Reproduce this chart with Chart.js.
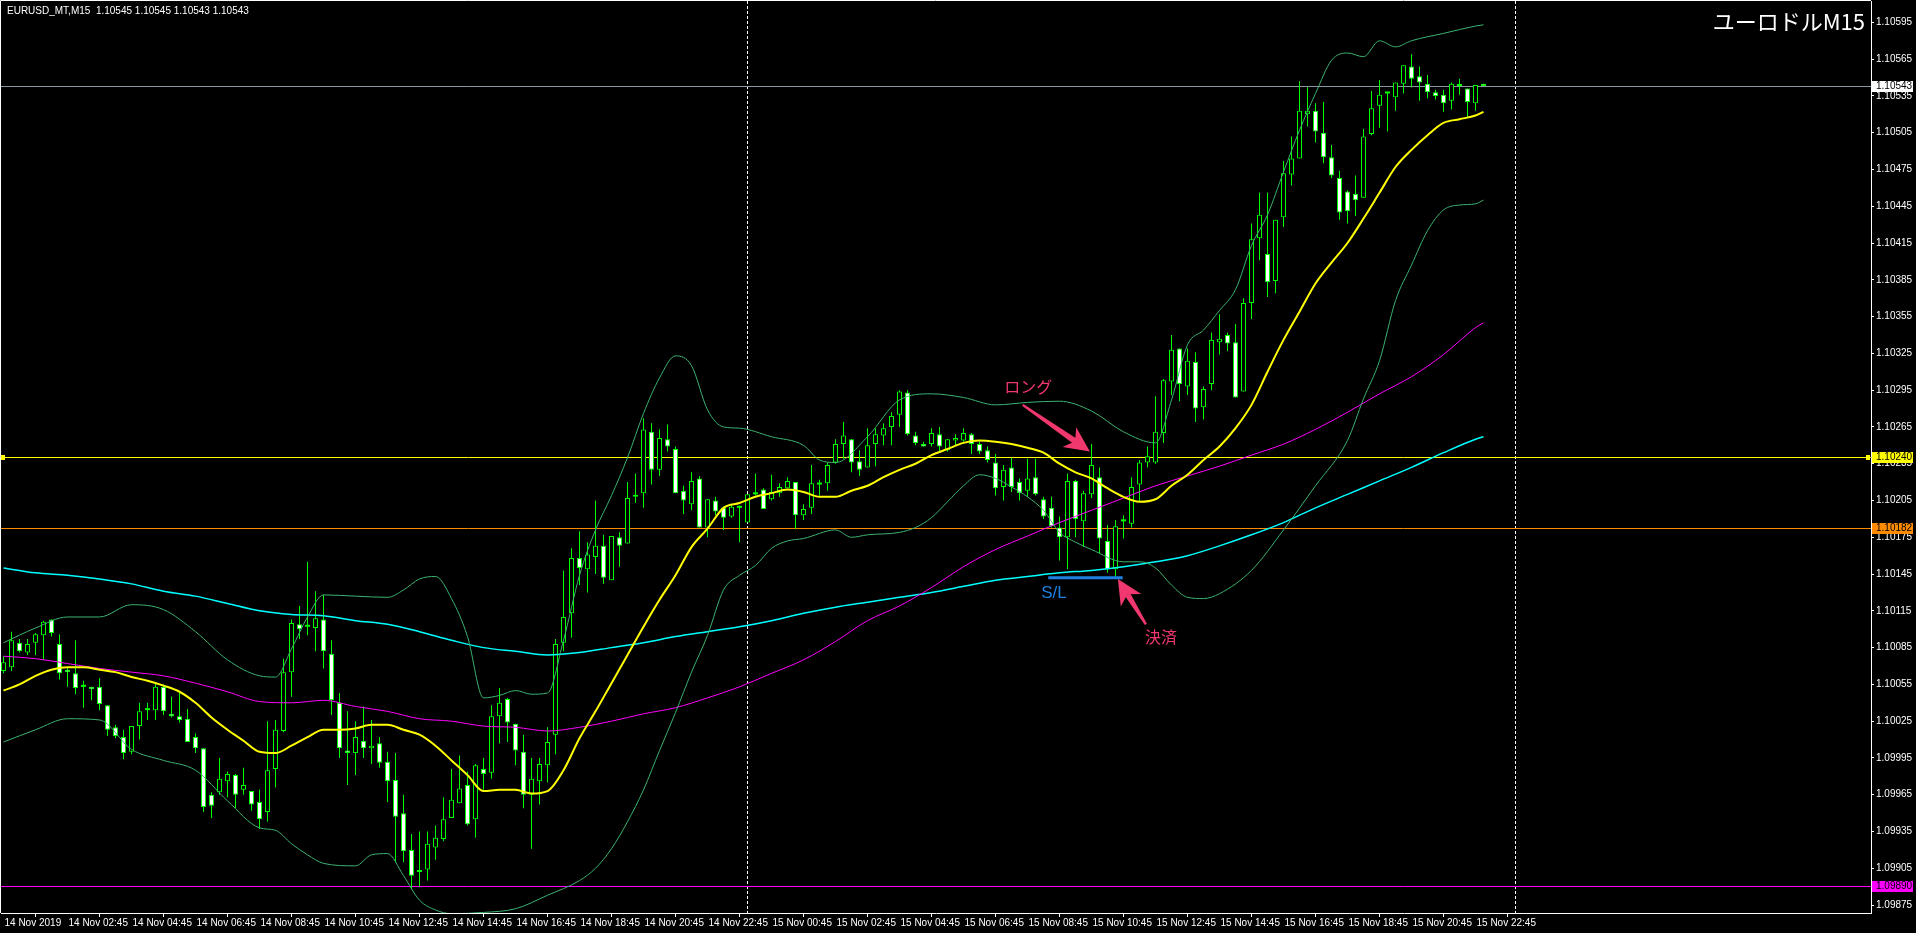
<!DOCTYPE html>
<html lang="ja">
<head>
<meta charset="UTF-8">
<title>EURUSD M15</title>
<script src="https://cdn.jsdelivr.net/npm/chart.js@4.4.1/dist/chart.umd.min.js"></script>
<style>
    html, body { margin: 0; padding: 0; background: #000; overflow: hidden; }
    #chart { display: block; }
</style>
</head>
<body>
<canvas id="chart" width="1916" height="933"></canvas>
<script>
// ローソク足 (14 Nov 00:45 から 15分足, 186本)
const openP = [
    1.10066, 1.10069, 1.10089, 1.10081, 1.10089, 1.10095, 1.10108, 1.10088, 1.10067, 1.10064,
    1.10053, 1.10053, 1.10053, 1.10038, 1.10020, 1.10012, 1.10000, 1.10021, 1.10034, 1.10034,
    1.10053, 1.10031, 1.10029, 1.10027, 1.10012, 1.10003, 1.09965, 1.09967, 1.09976, 1.09981,
    1.09969, 1.09968, 1.09959, 1.09951, 1.09986, 1.10017, 1.10065, 1.10104, 1.10102, 1.10101,
    1.10108, 1.10080, 1.10040, 1.10001, 1.09999, 1.10009, 1.10003, 1.10007, 1.09992, 1.09977,
    1.09950, 1.09920, 1.09902, 1.09904, 1.09922, 1.09929, 1.09946, 1.09958, 1.09973, 1.09945,
    1.09986, 1.09983, 1.10029, 1.10043, 1.10023, 1.10000, 1.09965, 1.09976, 1.09989, 1.10014,
    1.10089, 1.10113, 1.10158, 1.10149, 1.10159, 1.10168, 1.10140, 1.10175, 1.10170, 1.10208,
    1.10211, 1.10261, 1.10230, 1.10255, 1.10247, 1.10213, 1.10202, 1.10223, 1.10183, 1.10205,
    1.10199, 1.10192, 1.10199, 1.10187, 1.10210, 1.10214, 1.10206, 1.10211, 1.10215, 1.10220,
    1.10193, 1.10199, 1.10218, 1.10219, 1.10236, 1.10251, 1.10255, 1.10237, 1.10232, 1.10251,
    1.10258, 1.10265, 1.10275, 1.10293, 1.10258, 1.10251, 1.10251, 1.10259, 1.10246, 1.10254,
    1.10254, 1.10259, 1.10251, 1.10246, 1.10236, 1.10216, 1.10232, 1.10220, 1.10213, 1.10224,
    1.10206, 1.10199, 1.10183, 1.10175, 1.10221, 1.10188, 1.10210, 1.10224, 1.10172, 1.10149,
    1.10188, 1.10186, 1.10218, 1.10236, 1.10236, 1.10260, 1.10302, 1.10329, 1.10298, 1.10318,
    1.10281, 1.10300, 1.10334, 1.10340, 1.10334, 1.10294, 1.10366, 1.10419, 1.10406, 1.10384,
    1.10436, 1.10471, 1.10484, 1.10520, 1.10523, 1.10505, 1.10485, 1.10468, 1.10457, 1.10455,
    1.10452, 1.10504, 1.10527, 1.10537, 1.10534, 1.10545, 1.10559, 1.10551, 1.10545, 1.10538,
    1.10536, 1.10531, 1.10544, 1.10541, 1.10529, 1.10545
];
const highP = [
    1.10078, 1.10098, 1.10092, 1.10092, 1.10097, 1.10107, 1.10108, 1.10096, 1.10069, 1.10091,
    1.10058, 1.10053, 1.10060, 1.10038, 1.10022, 1.10018, 1.10021, 1.10040, 1.10040, 1.10056,
    1.10055, 1.10045, 1.10048, 1.10035, 1.10015, 1.10003, 1.09967, 1.09995, 1.09984, 1.09982,
    1.09987, 1.09968, 1.09969, 1.10025, 1.10026, 1.10076, 1.10108, 1.10119, 1.10155, 1.10131,
    1.10128, 1.10091, 1.10048, 1.10033, 1.10025, 1.10037, 1.10026, 1.10012, 1.10000, 1.09999,
    1.09965, 1.09933, 1.09935, 1.09935, 1.09940, 1.09963, 1.09986, 1.09997, 1.09984, 1.09990,
    1.09995, 1.10038, 1.10052, 1.10044, 1.10023, 1.10014, 1.09995, 1.09995, 1.10020, 1.10092,
    1.10148, 1.10166, 1.10180, 1.10171, 1.10205, 1.10177, 1.10176, 1.10179, 1.10220, 1.10227,
    1.10272, 1.10268, 1.10263, 1.10267, 1.10249, 1.10217, 1.10228, 1.10225, 1.10206, 1.10208,
    1.10200, 1.10202, 1.10201, 1.10210, 1.10227, 1.10215, 1.10226, 1.10219, 1.10224, 1.10220,
    1.10202, 1.10234, 1.10222, 1.10236, 1.10255, 1.10269, 1.10255, 1.10246, 1.10264, 1.10264,
    1.10268, 1.10277, 1.10295, 1.10295, 1.10261, 1.10253, 1.10264, 1.10265, 1.10255, 1.10259,
    1.10264, 1.10260, 1.10253, 1.10249, 1.10243, 1.10234, 1.10240, 1.10223, 1.10239, 1.10239,
    1.10208, 1.10208, 1.10192, 1.10227, 1.10222, 1.10213, 1.10251, 1.10232, 1.10185, 1.10189,
    1.10193, 1.10224, 1.10238, 1.10249, 1.10290, 1.10304, 1.10340, 1.10329, 1.10329, 1.10326,
    1.10298, 1.10342, 1.10357, 1.10342, 1.10349, 1.10370, 1.10431, 1.10456, 1.10456, 1.10434,
    1.10482, 1.10502, 1.10547, 1.10542, 1.10529, 1.10530, 1.10495, 1.10474, 1.10458, 1.10470,
    1.10508, 1.10539, 1.10548, 1.10538, 1.10546, 1.10560, 1.10569, 1.10559, 1.10552, 1.10540,
    1.10540, 1.10546, 1.10549, 1.10541, 1.10544, 1.10545
];
const lowP = [
    1.10064, 1.10066, 1.10081, 1.10079, 1.10079, 1.10075, 1.10094, 1.10059, 1.10053, 1.10047,
    1.10036, 1.10042, 1.10034, 1.10013, 1.10011, 1.09994, 1.09998, 1.10010, 1.10026, 1.10026,
    1.10030, 1.10028, 1.10024, 1.10008, 1.09999, 1.09951, 1.09946, 1.09965, 1.09963, 1.09954,
    1.09965, 1.09952, 1.09937, 1.09943, 1.09971, 1.10016, 1.10045, 1.10092, 1.10095, 1.10082,
    1.10068, 1.10030, 1.09995, 1.09973, 1.09981, 1.09995, 1.09990, 1.09987, 1.09959, 1.09910,
    1.09910, 1.09888, 1.09890, 1.09895, 1.09912, 1.09927, 1.09946, 1.09958, 1.09940, 1.09930,
    1.09969, 1.09978, 1.10007, 1.10008, 1.09989, 1.09954, 1.09921, 1.09957, 1.09975, 1.09998,
    1.10082, 1.10093, 1.10136, 1.10130, 1.10145, 1.10137, 1.10140, 1.10151, 1.10170, 1.10203,
    1.10199, 1.10218, 1.10225, 1.10245, 1.10211, 1.10194, 1.10197, 1.10183, 1.10175, 1.10193,
    1.10181, 1.10191, 1.10171, 1.10187, 1.10209, 1.10198, 1.10205, 1.10208, 1.10215, 1.10182,
    1.10189, 1.10194, 1.10209, 1.10213, 1.10235, 1.10239, 1.10228, 1.10225, 1.10232, 1.10233,
    1.10250, 1.10250, 1.10265, 1.10258, 1.10250, 1.10249, 1.10249, 1.10245, 1.10245, 1.10250,
    1.10253, 1.10243, 1.10243, 1.10236, 1.10209, 1.10205, 1.10212, 1.10205, 1.10208, 1.10209,
    1.10190, 1.10183, 1.10156, 1.10149, 1.10175, 1.10167, 1.10207, 1.10162, 1.10146, 1.10143,
    1.10174, 1.10183, 1.10204, 1.10232, 1.10235, 1.10252, 1.10291, 1.10286, 1.10291, 1.10269,
    1.10271, 1.10295, 1.10324, 1.10327, 1.10289, 1.10294, 1.10353, 1.10401, 1.10371, 1.10374,
    1.10428, 1.10462, 1.10484, 1.10510, 1.10497, 1.10480, 1.10468, 1.10434, 1.10431, 1.10437,
    1.10452, 1.10503, 1.10509, 1.10506, 1.10523, 1.10537, 1.10542, 1.10531, 1.10533, 1.10532,
    1.10522, 1.10524, 1.10536, 1.10517, 1.10523, 1.10543
];
const closeP = [
    1.10073, 1.10091, 1.10082, 1.10088, 1.10096, 1.10106, 1.10097, 1.10064, 1.10065, 1.10052,
    1.10053, 1.10051, 1.10039, 1.10018, 1.10013, 1.09999, 1.10021, 1.10033, 1.10034, 1.10053,
    1.10033, 1.10029, 1.10026, 1.10008, 1.10003, 1.09955, 1.09956, 1.09978, 1.09982, 1.09965,
    1.09973, 1.09957, 1.09945, 1.09985, 1.10018, 1.10065, 1.10105, 1.10100, 1.10102, 1.10109,
    1.10082, 1.10042, 1.10003, 1.09999, 1.10012, 1.10003, 1.10005, 1.09991, 1.09976, 1.09947,
    1.09919, 1.09899, 1.09902, 1.09925, 1.09930, 1.09945, 1.09961, 1.09970, 1.09941, 1.09989,
    1.09982, 1.10029, 1.10040, 1.10024, 1.10001, 1.09965, 1.09978, 1.09990, 1.10008, 1.10088,
    1.10110, 1.10158, 1.10150, 1.10161, 1.10168, 1.10142, 1.10176, 1.10168, 1.10207, 1.10209,
    1.10263, 1.10230, 1.10256, 1.10249, 1.10211, 1.10205, 1.10221, 1.10183, 1.10206, 1.10196,
    1.10191, 1.10200, 1.10199, 1.10210, 1.10210, 1.10198, 1.10212, 1.10216, 1.10221, 1.10193,
    1.10198, 1.10219, 1.10218, 1.10234, 1.10251, 1.10258, 1.10236, 1.10230, 1.10250, 1.10259,
    1.10264, 1.10274, 1.10294, 1.10259, 1.10252, 1.10249, 1.10260, 1.10249, 1.10255, 1.10256,
    1.10260, 1.10251, 1.10245, 1.10238, 1.10215, 1.10230, 1.10216, 1.10211, 1.10223, 1.10210,
    1.10192, 1.10184, 1.10175, 1.10221, 1.10190, 1.10211, 1.10234, 1.10174, 1.10149, 1.10184,
    1.10188, 1.10216, 1.10236, 1.10241, 1.10261, 1.10303, 1.10328, 1.10300, 1.10319, 1.10280,
    1.10296, 1.10336, 1.10337, 1.10333, 1.10289, 1.10366, 1.10418, 1.10438, 1.10383, 1.10434,
    1.10472, 1.10484, 1.10523, 1.10523, 1.10506, 1.10485, 1.10470, 1.10440, 1.10441, 1.10450,
    1.10502, 1.10525, 1.10536, 1.10537, 1.10546, 1.10560, 1.10549, 1.10546, 1.10538, 1.10535,
    1.10529, 1.10545, 1.10543, 1.10530, 1.10544, 1.10543
];

// 移動平均線（画像から読み取り、バー番号ごと）
const yellowIdx = [
    0, 2, 4, 6, 8, 10, 12, 14, 16, 18, 20, 22, 24, 26, 28, 30, 32, 34, 36, 38,
    40, 42, 44, 46, 48, 50, 52, 54, 56, 58, 60, 62, 64, 66, 68, 70, 72, 74, 76, 78,
    80, 82, 84, 86, 88, 90, 92, 94, 96, 98, 100, 102, 104, 106, 108, 110, 112, 114, 116, 118,
    120, 122, 124, 126, 128, 130, 132, 134, 136, 138, 140, 142, 144, 146, 148, 150, 152, 154, 156, 158,
    160, 162, 164, 166, 168, 170, 172, 174, 176, 178, 180, 182, 184, 185
];
const yellowVal = [
    1.10050, 1.10055, 1.10062, 1.10067, 1.10069, 1.10069, 1.10067, 1.10065, 1.10061, 1.10058,
    1.10054, 1.10049, 1.10040, 1.10028, 1.10018, 1.10009, 1.10000, 1.09999, 1.10005, 1.10012,
    1.10018, 1.10018, 1.10019, 1.10022, 1.10022, 1.10018, 1.10014, 1.10005, 1.09993, 1.09981,
    1.09968, 1.09969, 1.09969, 1.09966, 1.09968, 1.09985, 1.10011, 1.10033, 1.10056, 1.10079,
    1.10102, 1.10124, 1.10144, 1.10167, 1.10182, 1.10199, 1.10203, 1.10208, 1.10211, 1.10214,
    1.10212, 1.10208, 1.10208, 1.10213, 1.10217, 1.10224, 1.10230, 1.10235, 1.10242, 1.10247,
    1.10252, 1.10254, 1.10253, 1.10251, 1.10248, 1.10244, 1.10235, 1.10228, 1.10223, 1.10215,
    1.10208, 1.10204, 1.10206, 1.10217, 1.10226, 1.10238, 1.10249, 1.10264, 1.10283, 1.10310,
    1.10336, 1.10359, 1.10382, 1.10399, 1.10415, 1.10435, 1.10456, 1.10477, 1.10491, 1.10503,
    1.10513, 1.10516, 1.10519, 1.10522
];

const maIdx = [
    0, 4, 8, 12, 16, 20, 24, 28, 32, 36, 40, 44, 48, 52, 56, 60, 64, 68, 72, 76,
    80, 84, 88, 92, 96, 100, 104, 108, 112, 116, 120, 124, 128, 132, 136, 140, 144, 148, 152, 156,
    160, 164, 168, 172, 176, 180, 184, 185
];
const magentaVal = [
    1.10078, 1.10076, 1.10072, 1.10068, 1.10065, 1.10062, 1.10056, 1.10049, 1.10041, 1.10040,
    1.10042, 1.10037, 1.10033, 1.10027, 1.10025, 1.10021, 1.10020, 1.10017, 1.10020, 1.10025,
    1.10031, 1.10036, 1.10044, 1.10053, 1.10064, 1.10075, 1.10090, 1.10107, 1.10119, 1.10134,
    1.10151, 1.10165, 1.10176, 1.10187, 1.10197, 1.10207, 1.10217, 1.10225, 1.10233, 1.10242,
    1.10251, 1.10263, 1.10277, 1.10292, 1.10306, 1.10324, 1.10346, 1.10350
];
const cyanVal = [
    1.10150, 1.10146, 1.10144, 1.10141, 1.10137, 1.10131, 1.10127, 1.10121, 1.10115, 1.10112,
    1.10111, 1.10107, 1.10104, 1.10098, 1.10091, 1.10085, 1.10082, 1.10079, 1.10081, 1.10085,
    1.10089, 1.10094, 1.10098, 1.10102, 1.10107, 1.10113, 1.10118, 1.10122, 1.10126, 1.10130,
    1.10135, 1.10140, 1.10143, 1.10146, 1.10148, 1.10151, 1.10155, 1.10160, 1.10168, 1.10177,
    1.10187, 1.10199, 1.10210, 1.10221, 1.10232, 1.10244, 1.10255, 1.10257
];

// ボリンジャーバンド
const upperIdx = [
    0, 4, 8, 12, 16, 20, 24, 28, 32, 34, 36, 38, 40, 44, 48, 50, 52, 54, 56, 58,
    60, 62, 64, 66, 68, 70, 72, 74, 76, 78, 80, 82, 84, 86, 88, 90, 92, 96, 100, 102,
    104, 108, 112, 116, 120, 124, 128, 132, 136, 140, 144, 146, 148, 150, 152, 154, 156, 158, 160, 162,
    164, 166, 168, 170, 172, 174, 176, 180, 184, 185
];
const upperVal = [
    1.10089, 1.10101, 1.10110, 1.10110, 1.10120, 1.10116, 1.10098, 1.10075, 1.10062, 1.10061,
    1.10084, 1.10110, 1.10128, 1.10127, 1.10126, 1.10132, 1.10141, 1.10143, 1.10125, 1.10094,
    1.10044, 1.10046, 1.10050, 1.10047, 1.10048, 1.10091, 1.10144, 1.10181, 1.10209, 1.10240,
    1.10276, 1.10305, 1.10323, 1.10315, 1.10279, 1.10265, 1.10264, 1.10257, 1.10250, 1.10238,
    1.10236, 1.10257, 1.10287, 1.10292, 1.10289, 1.10283, 1.10285, 1.10286, 1.10278, 1.10261,
    1.10252, 1.10287, 1.10332, 1.10344, 1.10360, 1.10377, 1.10413, 1.10438, 1.10473, 1.10507,
    1.10537, 1.10564, 1.10570, 1.10567, 1.10580, 1.10575, 1.10580, 1.10586, 1.10592, 1.10593
];
const lowerIdx = [
    0, 4, 8, 12, 16, 20, 24, 28, 32, 34, 36, 38, 40, 44, 46, 48, 50, 52, 54, 56,
    60, 64, 68, 72, 74, 76, 78, 80, 82, 84, 86, 88, 90, 92, 94, 96, 98, 100, 104, 106,
    108, 112, 114, 116, 118, 120, 122, 124, 126, 128, 130, 132, 134, 136, 140, 142, 144, 146, 148, 150,
    152, 156, 160, 164, 168, 170, 172, 174, 176, 178, 180, 182, 184, 185
];
const lowerVal = [
    1.10008, 1.10018, 1.10027, 1.10026, 1.10002, 1.09993, 1.09985, 1.09960, 1.09938, 1.09936,
    1.09925, 1.09916, 1.09909, 1.09907, 1.09916, 1.09917, 1.09899, 1.09879, 1.09871, 1.09868,
    1.09869, 1.09872, 1.09883, 1.09895, 1.09905, 1.09921, 1.09943, 1.09969, 1.10001, 1.10032,
    1.10065, 1.10095, 1.10132, 1.10144, 1.10152, 1.10166, 1.10172, 1.10174, 1.10181, 1.10175,
    1.10177, 1.10179, 1.10183, 1.10191, 1.10204, 1.10217, 1.10226, 1.10223, 1.10216, 1.10208,
    1.10197, 1.10179, 1.10171, 1.10165, 1.10155, 1.10155, 1.10150, 1.10136, 1.10126, 1.10125,
    1.10129, 1.10148, 1.10181, 1.10217, 1.10254, 1.10288, 1.10319, 1.10368, 1.10397, 1.10425,
    1.10442, 1.10446, 1.10447, 1.10450
];

// 水平線と日付区切り
const priceLevels = [1.10543, 1.10240, 1.10182, 1.09890];
const daySeparators = [93, 189];

// 軸ラベル
const yTickValues = [
    1.10595, 1.10565, 1.10535, 1.10505, 1.10475, 1.10445, 1.10415, 1.10385, 1.10355, 1.10325,
    1.10295, 1.10265, 1.10235, 1.10205, 1.10175, 1.10145, 1.10115, 1.10085, 1.10055, 1.10025,
    1.09995, 1.09965, 1.09935, 1.09905, 1.09875
];
const xTickIdx = [0, 8, 16, 24, 32, 40, 48, 56, 64, 72, 80, 88, 96, 104, 112, 120, 128, 136, 144, 152, 160, 168, 176, 184];
const xTickLabels = [
    '14 Nov 2019', '14 Nov 02:45', '14 Nov 04:45', '14 Nov 06:45', '14 Nov 08:45', '14 Nov 10:45',
    '14 Nov 12:45', '14 Nov 14:45', '14 Nov 16:45', '14 Nov 18:45', '14 Nov 20:45', '14 Nov 22:45',
    '15 Nov 00:45', '15 Nov 02:45', '15 Nov 04:45', '15 Nov 06:45', '15 Nov 08:45', '15 Nov 10:45',
    '15 Nov 12:45', '15 Nov 14:45', '15 Nov 16:45', '15 Nov 18:45', '15 Nov 20:45', '15 Nov 22:45'
];

const symbolInfo = 'EURUSD_MT,M15  1.10545 1.10545 1.10543 1.10543';
const chartTitle = 'ユーロドルM15';

const GREEN = '#00ff00';
const PINK = '#f0386f';
const AXIS_FONT = { family: 'Liberation Sans, Arial, sans-serif', size: 10 };
const JP_FONT = '"Noto Sans CJK JP", sans-serif';

const levelColors = ['#8a97a8', '#ffff00', '#ff8c00', '#ff00ff'];
const boxColors = ['#ffffff', '#ffff00', '#ff8c00', '#ff00ff'];

function lineData(idx, vals) {
    return idx.map((v, k) => ({ x: v, y: vals[k] }));
}

function lineSet(label, idx, vals, color, width, order) {
    return {
        type: 'line',
        label: label,
        data: lineData(idx, vals),
        borderColor: color,
        borderWidth: width,
        pointRadius: 0,
        fill: false,
        cubicInterpolationMode: 'monotone',
        order: order
    };
}

// 矢印（先細りの軸＋三角の先端）
function drawArrow(ctx, x1, y1, x2, y2, color) {
    const ang = Math.atan2(y2 - y1, x2 - x1);
    const c = Math.cos(ang), s = Math.sin(ang);
    const headLen = 25, headW = 12, notch = 18;
    const bx = x2 - notch * c, by = y2 - notch * s;
    ctx.fillStyle = color;
    ctx.beginPath();
    ctx.moveTo(x1 - 1.2 * s, y1 + 1.2 * c);
    ctx.lineTo(bx - 3 * s, by + 3 * c);
    ctx.lineTo(bx + 3 * s, by - 3 * c);
    ctx.lineTo(x1 + 1.2 * s, y1 - 1.2 * c);
    ctx.closePath();
    ctx.fill();
    const hx = x2 - headLen * c, hy = y2 - headLen * s;
    ctx.beginPath();
    ctx.moveTo(x2, y2);
    ctx.lineTo(hx - headW * s, hy + headW * c);
    ctx.lineTo(bx, by);
    ctx.lineTo(hx + headW * s, hy - headW * c);
    ctx.closePath();
    ctx.fill();
}

const backgroundPlugin = {
    id: 'background',
    beforeDraw(chart) {
        const ctx = chart.ctx;
        ctx.save();
        ctx.fillStyle = '#000000';
        ctx.fillRect(0, 0, chart.width, chart.height);
        ctx.restore();
    }
};

const overlayPlugin = {
    id: 'overlay',
    beforeDatasetsDraw(chart) {
        const { ctx, chartArea: a, scales: { x, y } } = chart;
        ctx.save();
        // 日付区切り（点線）
        ctx.strokeStyle = '#ffffff';
        ctx.lineWidth = 1;
        ctx.setLineDash([3, 2]);
        daySeparators.forEach(i => {
            const px = Math.floor(x.getPixelForValue(i)) + 0.5;
            ctx.beginPath();
            ctx.moveTo(px, a.top);
            ctx.lineTo(px, a.bottom);
            ctx.stroke();
        });
        ctx.setLineDash([]);
        // 水平線
        priceLevels.forEach((v, k) => {
            const py = Math.floor(y.getPixelForValue(v)) + 0.5;
            ctx.strokeStyle = levelColors[k];
            ctx.beginPath();
            ctx.moveTo(a.left, py);
            ctx.lineTo(a.right, py);
            ctx.stroke();
        });
        ctx.restore();
    },
    afterDraw(chart) {
        const { ctx, chartArea: a, scales: { x, y } } = chart;
        ctx.save();

        // 枠
        ctx.strokeStyle = '#ffffff';
        ctx.lineWidth = 1;
        ctx.beginPath();
        ctx.moveTo(a.left - 0.5, a.bottom);
        ctx.lineTo(a.left - 0.5, a.top - 0.5);
        ctx.lineTo(a.right, a.top - 0.5);
        ctx.stroke();

        // 価格ボックス（右軸）
        ctx.font = '10px ' + AXIS_FONT.family;
        ctx.textBaseline = 'middle';
        ctx.textAlign = 'left';
        priceLevels.forEach((v, k) => {
            const py = Math.floor(y.getPixelForValue(v));
            ctx.fillStyle = boxColors[k];
            ctx.fillRect(a.right + 1, py - 5, 41, 11);
            ctx.fillStyle = '#000000';
            ctx.fillText(v.toFixed(5), a.right + 5, py + 0.5);
        });

        // 黄色ラインのマーカー
        const yl = Math.floor(y.getPixelForValue(priceLevels[1]));
        ctx.fillStyle = '#ffff00';
        ctx.fillRect(a.left, yl - 2, 4, 5);
        ctx.fillRect(a.right - 5, yl - 2, 4, 5);

        // 左上の銘柄情報
        ctx.fillStyle = '#ffffff';
        ctx.font = '10px ' + AXIS_FONT.family;
        ctx.textAlign = 'left';
        ctx.fillText(symbolInfo, 7, 11);

        // 右上のタイトル
        ctx.font = '22px ' + JP_FONT;
        ctx.textAlign = 'right';
        ctx.textBaseline = 'alphabetic';
        ctx.fillText(chartTitle, a.right - 6, 30);

        // S/L ライン
        const slY = y.getPixelForValue(1.10142);
        ctx.strokeStyle = '#1d80e2';
        ctx.lineWidth = 3;
        ctx.beginPath();
        ctx.moveTo(x.getPixelForValue(130.6), slY);
        ctx.lineTo(x.getPixelForValue(139.9), slY);
        ctx.stroke();

        ctx.textAlign = 'center';
        ctx.textBaseline = 'middle';
        ctx.fillStyle = '#1d80e2';
        ctx.font = '17px "Liberation Sans", Arial, sans-serif';
        ctx.fillText('S/L', x.getPixelForValue(131.3), y.getPixelForValue(1.10129));

        // ロング / 決済
        ctx.fillStyle = PINK;
        ctx.font = '16px ' + JP_FONT;
        ctx.fillText('ロング', x.getPixelForValue(128.1), y.getPixelForValue(1.10298));
        ctx.fillText('決済', x.getPixelForValue(144.7), y.getPixelForValue(1.10094));

        drawArrow(ctx,
            x.getPixelForValue(127.4), y.getPixelForValue(1.10283),
            x.getPixelForValue(135.8), y.getPixelForValue(1.10245), PINK);
        drawArrow(ctx,
            x.getPixelForValue(142.8), y.getPixelForValue(1.10104),
            x.getPixelForValue(139.3), y.getPixelForValue(1.10141), PINK);

        ctx.restore();
    }
};

const bodyData = openP.map((o, i) => ({ x: i, y: [o, closeP[i]] }));
const wickData = lowP.map((l, i) => ({ x: i, y: [l, highP[i]] }));

new Chart(document.getElementById('chart'), {
    type: 'bar',
    data: {
        datasets: [
            lineSet('MA20', yellowIdx, yellowVal, '#ffff00', 2, 0),
            lineSet('BB upper', upperIdx, upperVal, '#3cb371', 1, 1),
            lineSet('BB lower', lowerIdx, lowerVal, '#3cb371', 1, 1),
            lineSet('MA75', maIdx, magentaVal, '#ff00ff', 1, 1),
            lineSet('MA200', maIdx, cyanVal, '#00ffff', 1.5, 1),
            {
                type: 'bar',
                label: 'body',
                data: bodyData,
                backgroundColor: ctx => {
                    const i = ctx.dataIndex;
                    if (closeP[i] > openP[i]) return '#000000';
                    if (closeP[i] < openP[i]) return '#ffffff';
                    return GREEN;
                },
                borderColor: GREEN,
                borderWidth: ctx => (closeP[ctx.dataIndex] === openP[ctx.dataIndex] ? 0 : 1),
                borderSkipped: false,
                barThickness: 5,
                minBarLength: 2,
                grouped: false,
                inflateAmount: 0,
                order: 2
            },
            {
                type: 'bar',
                label: 'wick',
                data: wickData,
                backgroundColor: GREEN,
                borderWidth: 0,
                barThickness: 1,
                grouped: false,
                inflateAmount: 0,
                order: 3
            }
        ]
    },
    options: {
        responsive: false,
        animation: false,
        devicePixelRatio: 1,
        events: [],
        layout: { padding: { left: 1, top: 1, right: 0, bottom: 0 } },
        plugins: {
            legend: { display: false },
            tooltip: { enabled: false }
        },
        scales: {
            x: {
                type: 'linear',
                min: -0.3125,
                max: 233.4375,
                offset: false,
                grid: { display: true, drawOnChartArea: false, drawTicks: true, tickLength: 4, color: '#ffffff' },
                border: { display: true, color: '#ffffff' },
                ticks: {
                    autoSkip: false,
                    maxRotation: 0,
                    minRotation: 0,
                    align: 'start',
                    labelOffset: 1,
                    padding: 0,
                    color: '#ffffff',
                    font: AXIS_FONT,
                    callback: v => xTickLabels[xTickIdx.indexOf(v)]
                },
                afterBuildTicks: scale => {
                    scale.ticks = xTickIdx.map(v => ({ value: v }));
                },
                afterFit: scale => {
                    scale.height = 20;
                    scale.paddingLeft = 0;
                    scale.paddingRight = 0;
                }
            },
            y: {
                type: 'linear',
                position: 'right',
                min: 1.0986854,
                max: 1.1061242,
                grid: { display: true, drawOnChartArea: false, drawTicks: true, tickLength: 3, color: '#ffffff' },
                border: { display: true, color: '#ffffff' },
                ticks: {
                    autoSkip: false,
                    padding: 2,
                    color: '#ffffff',
                    font: AXIS_FONT,
                    callback: v => v.toFixed(5)
                },
                afterBuildTicks: scale => {
                    scale.ticks = yTickValues.map(v => ({ value: v }));
                },
                afterFit: scale => {
                    scale.width = 45;
                    scale.paddingTop = 0;
                    scale.paddingBottom = 0;
                }
            }
        }
    },
    plugins: [backgroundPlugin, overlayPlugin]
});
</script>
</body>
</html>
